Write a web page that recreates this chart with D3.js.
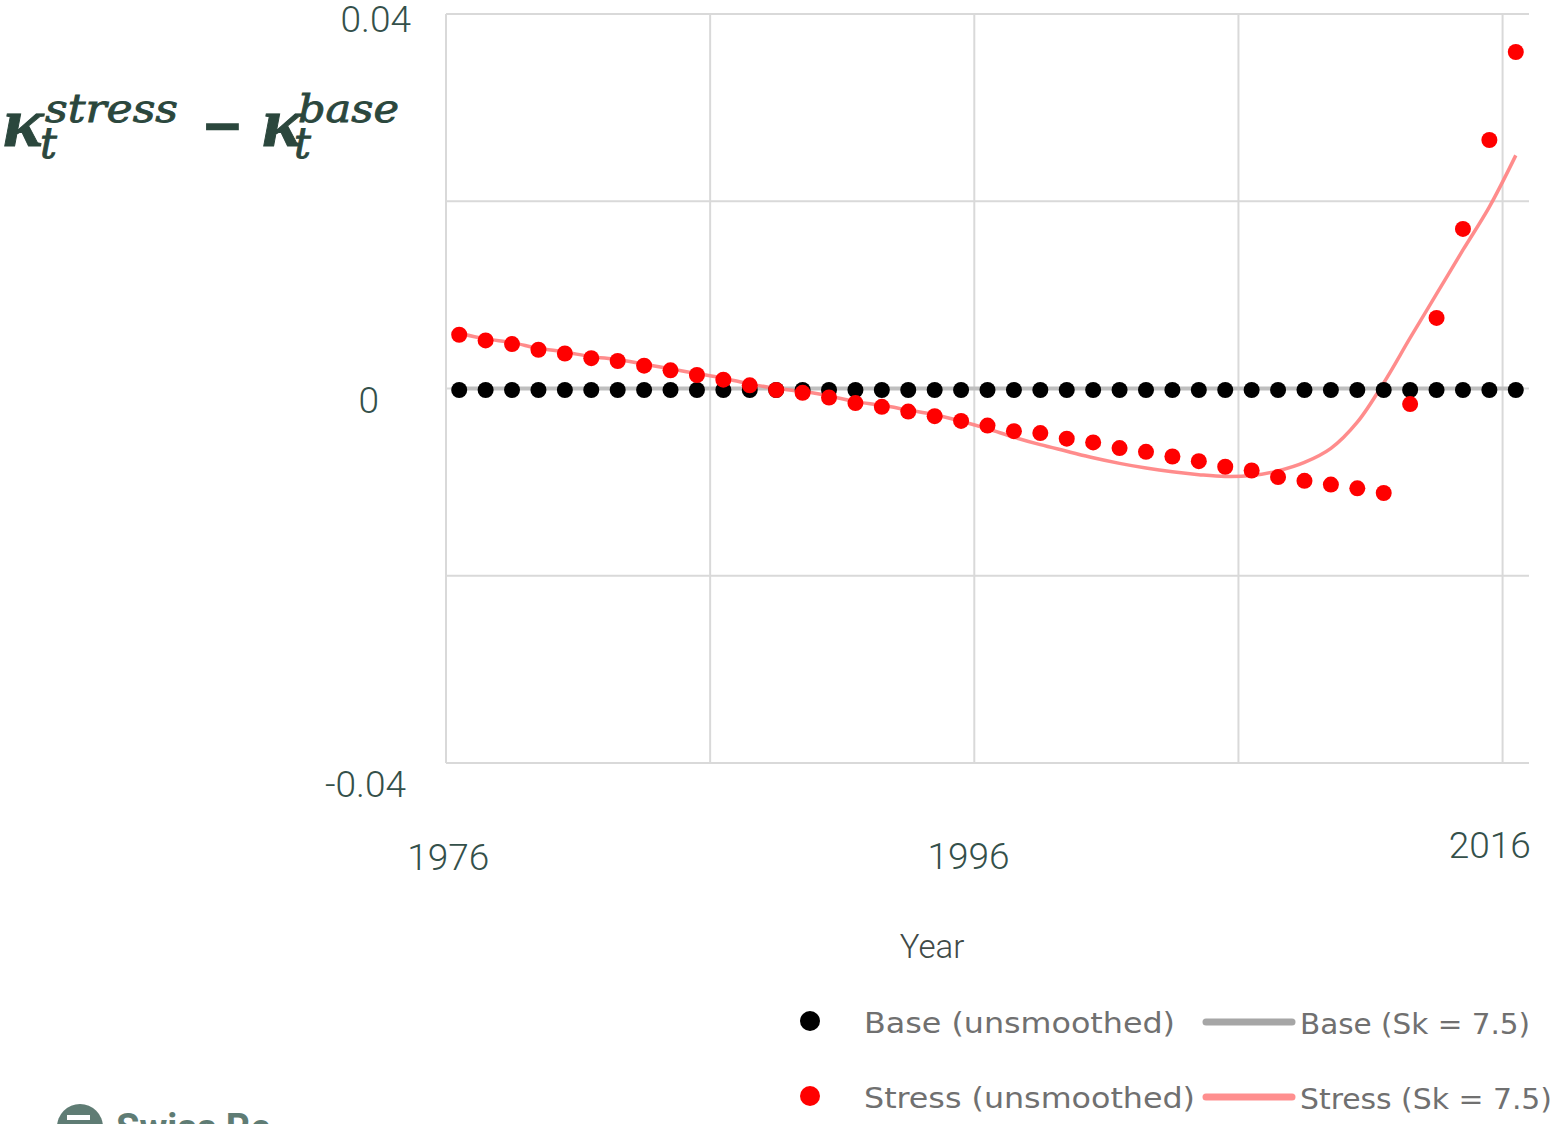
<!DOCTYPE html>
<html>
<head>
<meta charset="utf-8">
<script src="https://cdn.jsdelivr.net/npm/d3@7"></script>
<style>
  body { margin: 0; background: #fff; }
  svg { display: block; }
  .tick_text { font-family: Roboto, "Liberation Sans", sans-serif; font-weight: 300; font-size: 37px; fill: #34504a; }
  .legend_text { font-family: "DejaVu Sans", sans-serif; font-stretch: condensed; font-size: 28px; fill: #707070; }
</style>
</head>
<body>
<figure id="chart" style="margin:0"></figure>
<script>
// data
const years = d3.range(1976, 2017); // 1976 .. 2016, one category per year

const baseUnsmoothed = [
  0, 0, 0, 0, 0, 0, 0, 0, 0, 0,
  0, 0, 0, 0, 0, 0, 0, 0, 0, 0,
  0, 0, 0, 0, 0, 0, 0, 0, 0, 0,
  0, 0, 0, 0, 0, 0, 0, 0, 0, 0,
  0
];

const baseSmoothed = [
  0, 0, 0, 0, 0, 0, 0, 0, 0, 0,
  0, 0, 0, 0, 0, 0, 0, 0, 0, 0,
  0, 0, 0, 0, 0, 0, 0, 0, 0, 0,
  0, 0, 0, 0, 0, 0, 0, 0, 0, 0,
  0
];

const stressUnsmoothed = [
  0.0059, 0.0053, 0.0049, 0.0043, 0.0039, 0.0034, 0.0031, 0.0026, 0.0021, 0.0016,
  0.0011, 0.0005, 0.0000, -0.0003, -0.0008, -0.0014, -0.0018, -0.0023, -0.0028, -0.0033,
  -0.0038, -0.0044, -0.0046, -0.0052, -0.0056, -0.0062, -0.0066, -0.0071, -0.0076, -0.0082,
  -0.0086, -0.0093, -0.0097, -0.0101, -0.0105, -0.0110, -0.0015, 0.0077, 0.0172, 0.0267,
  0.0361
];

const stressSmoothed = [
  0.0059, 0.0053, 0.0049, 0.0043, 0.0039, 0.0034, 0.0031, 0.0026, 0.0021, 0.0016,
  0.0011, 0.0005, 0.0000, -0.0003, -0.0008, -0.0014, -0.0018, -0.0023, -0.0028, -0.0035,
  -0.0043, -0.0052, -0.0060, -0.0067, -0.0074, -0.0080, -0.0085, -0.0089, -0.0092, -0.0094,
  -0.0093, -0.0088, -0.0079, -0.0064, -0.0036, 0.0006, 0.0054, 0.0101, 0.0148, 0.0194,
  0.0249
];

const yTicks = [-0.04, 0, 0.04];
const yGrid = [-0.04, -0.02, 0, 0.02, 0.04];
const xLabelYears = [1976, 1996, 2016];
const xGridYears = [1976, 1986, 1996, 2006, 2016];

const legendItems = [
  { label: "Base (unsmoothed)", kind: "dot", color: "#000000" },
  { label: "Base (Sk = 7.5)", kind: "line", color: "#a6a6a6" },
  { label: "Stress (unsmoothed)", kind: "dot", color: "#ff0000" },
  { label: "Stress (Sk = 7.5)", kind: "line", color: "#ff8f8f" }
];

// layout
let dimensions = {
  width: 1557,
  height: 1124,
  plot: { left: 446, right: 1529, top: 14, bottom: 763 }
};

var svg = d3.select("figure#chart")
  .append("svg")
  .attr("width", dimensions.width)
  .attr("height", dimensions.height)
  .attr("viewBox", `0 0 ${dimensions.width} ${dimensions.height}`);

// category axis like excel, one band per year
var xScale = d3.scaleBand()
  .domain(years)
  .range([dimensions.plot.left, dimensions.plot.right])
  .padding(0);

var yScale = d3.scaleLinear()
  .domain([-0.04, 0.04])
  .range([dimensions.plot.bottom, dimensions.plot.top]);

const xc = yr => xScale(yr) + xScale.bandwidth() / 2;

// gridlines
svg.append("g")
  .selectAll("line")
  .data(yGrid)
  .join("line")
  .attr("x1", dimensions.plot.left)
  .attr("x2", dimensions.plot.right)
  .attr("y1", d => yScale(d))
  .attr("y2", d => yScale(d))
  .attr("stroke", "#d9d9d9")
  .attr("stroke-width", 2);

svg.append("g")
  .selectAll("line")
  .data(xGridYears)
  .join("line")
  .attr("x1", d => xScale(d))
  .attr("x2", d => xScale(d))
  .attr("y1", dimensions.plot.top)
  .attr("y2", dimensions.plot.bottom)
  .attr("stroke", "#d9d9d9")
  .attr("stroke-width", 2);

// smoothed lines
var line = d3.line()
  .x((d, i) => xc(years[i]))
  .y(d => yScale(d))
  .curve(d3.curveCatmullRom.alpha(0.5));

svg.append("path")
  .datum(baseSmoothed)
  .attr("d", line)
  .attr("fill", "none")
  .attr("stroke", "#bfbfbf")
  .attr("stroke-width", 4);

svg.append("path")
  .datum(stressSmoothed)
  .attr("d", line)
  .attr("fill", "none")
  .attr("stroke", "#ff8080")
  .attr("stroke-width", 3.5)
  .attr("stroke-opacity", 0.9);

// dots
svg.append("g")
  .selectAll("circle")
  .data(baseUnsmoothed)
  .join("circle")
  .attr("cx", (d, i) => xc(years[i]))
  .attr("cy", d => yScale(d) + 1.5)
  .attr("r", 8)
  .attr("fill", "#000");

svg.append("g")
  .selectAll("circle")
  .data(stressUnsmoothed)
  .join("circle")
  .attr("cx", (d, i) => xc(years[i]))
  .attr("cy", d => yScale(d) + 1.5)
  .attr("r", 8)
  .attr("fill", "#ff0000");

// y axis labels (the original sits them a bit off the gridlines)
const yLabelNudge = { "0.04": [411, 17], "0": [379, 24], "-0.04": [406, 33] };
var yAxis = svg.append("g")
  .call(d3.axisLeft(yScale).tickValues(yTicks).tickSize(0).tickFormat(d => String(d)));
yAxis.select(".domain").remove();
yAxis.selectAll("text")
  .attr("class", "tick_text")
  .attr("x", d => yLabelNudge[String(d)][0])
  .attr("dy", null)
  .attr("y", d => yLabelNudge[String(d)][1])
  .attr("text-anchor", "end");

// x axis labels
const xLabelNudge = { 1976: [-11, 107], 1996: [-19, 106], 2016: [-26, 95] };
var xAxis = svg.append("g")
  .attr("transform", `translate(0, ${dimensions.plot.bottom})`)
  .call(d3.axisBottom(xScale).tickValues(xLabelYears).tickSize(0));
xAxis.select(".domain").remove();
xAxis.selectAll("text")
  .attr("class", "tick_text")
  .attr("x", d => xLabelNudge[d][0])
  .attr("dy", null)
  .attr("y", d => xLabelNudge[d][1])
  .attr("text-anchor", "middle");

// axis title
svg.append("text")
  .attr("x", 932)
  .attr("y", 958)
  .attr("text-anchor", "middle")
  .attr("class", "tick_text")
  .style("font-size", "33px")
  .style("fill", "#404a47")
  .text("Year");

// y title: kappa_t^stress - kappa_t^base
var title = svg.append("text")
  .attr("font-family", "'DejaVu Serif', serif")
  .attr("font-style", "italic")
  .attr("fill", "#2b473d")
  .attr("stroke", "#2b473d")
  .attr("stroke-width", 0.9);

// kappa from a times-like face, it is rounder than dejavu's
title.append("tspan").attr("x", 3).attr("y", 146).attr("font-size", 70)
  .attr("font-family", "'Liberation Serif', serif").attr("font-weight", 700)
  .attr("textLength", 40).attr("lengthAdjust", "spacingAndGlyphs").text("κ");
title.append("tspan").attr("x", 40).attr("y", 158).attr("font-size", 42).text("t");
title.append("tspan").attr("x", 45).attr("y", 122).attr("font-size", 40)
  .attr("textLength", 133).attr("lengthAdjust", "spacingAndGlyphs").text("stress");
title.append("tspan").attr("x", 202).attr("y", 145).attr("font-size", 58).attr("font-style", "normal")
  .attr("stroke-width", 2.5)
  .attr("textLength", 41).attr("lengthAdjust", "spacingAndGlyphs").text("−");
title.append("tspan").attr("x", 262).attr("y", 146).attr("font-size", 70)
  .attr("font-family", "'Liberation Serif', serif").attr("font-weight", 700)
  .attr("textLength", 40).attr("lengthAdjust", "spacingAndGlyphs").text("κ");
title.append("tspan").attr("x", 294).attr("y", 158).attr("font-size", 42).text("t");
title.append("tspan").attr("x", 298).attr("y", 122).attr("font-size", 40)
  .attr("textLength", 101).attr("lengthAdjust", "spacingAndGlyphs").text("base");

// legend, two rows of two
const legendPos = [
  { x: 810, y: 1021, tx: 864, tw: 311 },
  { x: 1203, y: 1022, tx: 1300, tw: 230 },
  { x: 810, y: 1096, tx: 864, tw: 331 },
  { x: 1203, y: 1097, tx: 1300, tw: 252 }
];

var legend = svg.append("g")
  .selectAll("g")
  .data(legendItems)
  .join("g");

legend.each(function(d, i) {
  const g = d3.select(this);
  const p = legendPos[i];
  if (d.kind === "dot") {
    g.append("circle").attr("cx", p.x).attr("cy", p.y).attr("r", 10).attr("fill", d.color);
  } else {
    g.append("line")
      .attr("x1", p.x + 3).attr("x2", p.x + 89)
      .attr("y1", p.y).attr("y2", p.y)
      .attr("stroke", d.color).attr("stroke-width", 7).attr("stroke-linecap", "round");
  }
  g.append("text")
    .attr("class", "legend_text")
    .attr("x", p.tx)
    .attr("y", p.y + 12)
    .attr("textLength", p.tw)
    .attr("lengthAdjust", "spacingAndGlyphs")
    .text(d.label);
});

// cut off logo at the bottom left
var logo = svg.append("g");
logo.append("circle").attr("cx", 80).attr("cy", 1127).attr("r", 23).attr("fill", "#5f7c74");
logo.append("rect").attr("x", 67).attr("y", 1115).attr("width", 23).attr("height", 5).attr("fill", "#fff");
logo.append("text")
  .attr("x", 116).attr("y", 1141)
  .attr("font-family", "Roboto, sans-serif").attr("font-weight", 700)
  .attr("font-size", 38).attr("fill", "#5f7c74")
  .text("Swiss Re");
</script>
</body>
</html>
